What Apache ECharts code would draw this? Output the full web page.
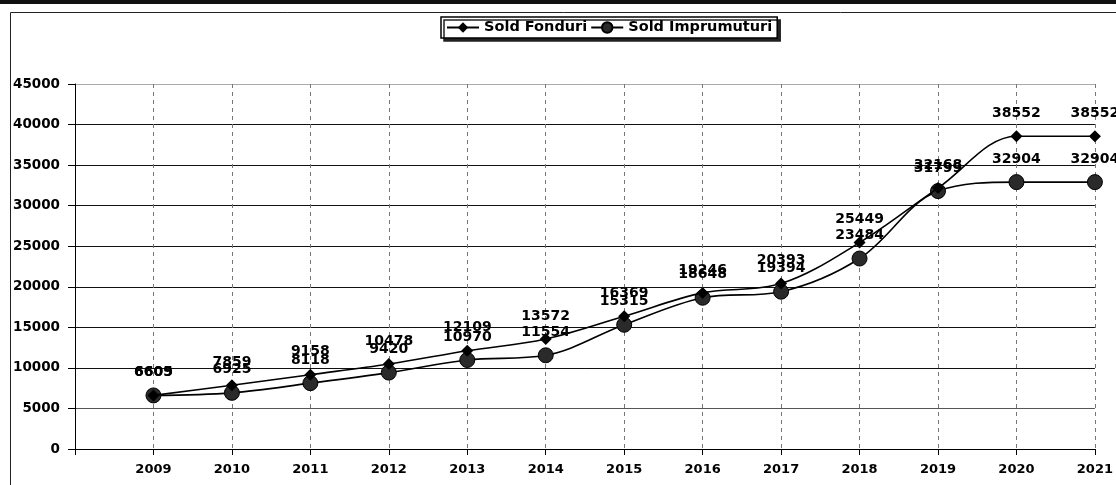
<!DOCTYPE html>
<html lang="ro">
<head>
    <meta charset="UTF-8">
    <title>Sold Fonduri / Sold Imprumuturi</title>
    <script src="https://cdn.jsdelivr.net/npm/echarts@6/dist/echarts.min.js"></script>
    <style>
        html, body { margin: 0; padding: 0; background: #fff; }
        #chart { width: 1116px; height: 485px; }
    </style>
</head>
<body>
<div id="chart"></div>
<script>
    // ani (axa X)
    var years = [2009, 2010, 2011, 2012, 2013, 2014, 2015, 2016, 2017, 2018, 2019, 2020, 2021];
    // valorile
    var soldFonduri = [6609, 7859, 9158, 10478, 12109, 13572, 16369, 19246, 20393, 25449, 32168, 38552, 38552];
    var soldImprumuturi = [6605, 6925, 8118, 9420, 10970, 11554, 15315, 18648, 19394, 23484, 31799, 32904, 32904];
    var yTicks = [0, 5000, 10000, 15000, 20000, 25000, 30000, 35000, 40000, 45000];

    var font = '"DejaVu Sans", Arial, sans-serif';

    function pairs(vals) {
        var res = [];
        for (var i = 0; i < years.length; i++) {
            res.push([years[i], vals[i]]);
        }
        return res;
    }

    var myChart = echarts.init(document.getElementById('chart'));

    myChart.setOption({
        animation: false,
        backgroundColor: '#fff',
        textStyle: { fontFamily: font },
        graphic: [
            // chenarul de sus (scanare)
            { type: 'rect', shape: { x: 0, y: 0, width: 1116, height: 4 }, style: { fill: '#111' }, z: 100 },
            // ramă grafic
            { type: 'rect', shape: { x: 10.5, y: 12.5, width: 1200, height: 500 },
              style: { fill: null, stroke: '#222', lineWidth: 1 }, z: 100 }
        ],
        legend: {
            left: 441,
            top: 17,
            data: ['Sold Fonduri', 'Sold Imprumuturi'],
            itemWidth: 32,
            itemHeight: 13,
            itemGap: 3,
            padding: [3, 5, 3, 5],
            borderColor: '#000',
            borderWidth: 1.5,
            borderRadius: 0,
            backgroundColor: '#fff',
            shadowColor: '#222',
            shadowOffsetX: 3,
            shadowOffsetY: 3,
            shadowBlur: 0,
            textStyle: { fontFamily: font, fontWeight: 'bold', fontSize: 14.5, color: '#000' }
        },
        grid: { left: 75, right: 17, top: 84, bottom: 36, containLabel: false },
        xAxis: {
            type: 'value',
            min: 2008,
            max: 2021,
            interval: 1,
            axisLine: { show: true, lineStyle: { color: '#000', width: 1 } },
            axisTick: { show: true, length: 6, lineStyle: { color: '#000' } },
            axisLabel: {
                margin: 14,
                color: '#000',
                fontFamily: font,
                fontWeight: 'bold',
                fontSize: 13,
                showMaxLabel: true,
                formatter: function (v) { return v === 2008 ? '' : String(v); }
            },
            splitLine: { show: true, lineStyle: { color: '#777', type: [4, 4], width: 1 } }
        },
        yAxis: {
            type: 'value',
            min: yTicks[0],
            max: yTicks[yTicks.length - 1],
            interval: 5000,
            axisLine: { show: true, lineStyle: { color: '#000', width: 1 } },
            axisTick: { show: true, length: 7, lineStyle: { color: '#000' } },
            axisLabel: {
                margin: 15,
                color: '#000',
                fontFamily: font,
                fontWeight: 'bold',
                fontSize: 13.5,
                formatter: function (v) { return String(v); }
            },
            splitLine: {
                show: true,
                lineStyle: {
                    color: ['#000', '#555', '#111', '#111', '#111', '#111', '#111', '#111', '#111', '#aaa'],
                    width: 1
                }
            }
        },
        series: [
            {
                name: 'Sold Fonduri',
                type: 'line',
                smooth: 0.35,
                data: pairs(soldFonduri),
                symbol: 'diamond',
                symbolSize: 12,
                lineStyle: { color: '#000', width: 1.6 },
                itemStyle: { color: '#000' },
                label: {
                    show: true,
                    position: 'top',
                    distance: 10,
                    color: '#000',
                    fontFamily: font,
                    fontWeight: 'bold',
                    fontSize: 14,
                    formatter: function (p) { return p.value[1]; }
                },
                z: 3
            },
            {
                name: 'Sold Imprumuturi',
                type: 'line',
                smooth: 0.35,
                data: pairs(soldImprumuturi),
                symbol: 'circle',
                symbolSize: 15,
                lineStyle: { color: '#000', width: 1.6 },
                itemStyle: { color: '#2a2a2a', borderColor: '#000', borderWidth: 1 },
                label: {
                    show: true,
                    position: 'top',
                    distance: 8,
                    color: '#000',
                    fontFamily: font,
                    fontWeight: 'bold',
                    fontSize: 14,
                    formatter: function (p) { return p.value[1]; }
                },
                z: 2
            }
        ]
    });

    window.addEventListener('resize', function () {
        myChart.resize();
    });
</script>
</body>
</html>
